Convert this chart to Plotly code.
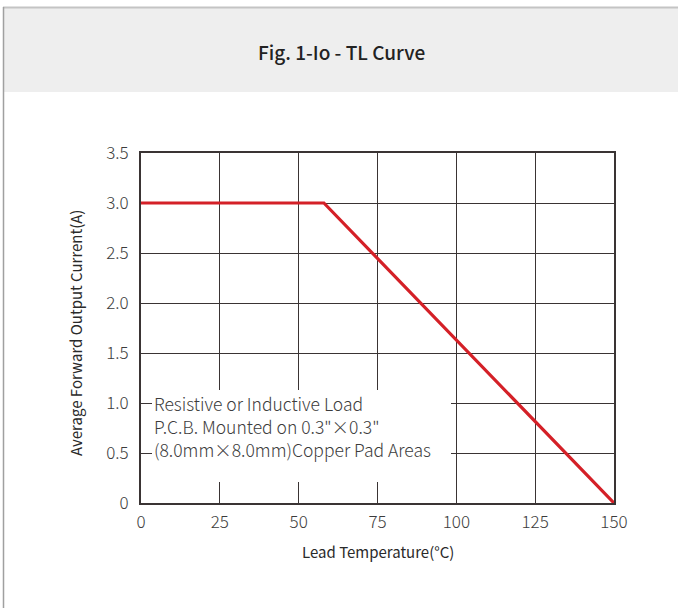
import plotly.graph_objects as go

# Data
temps = [0, 58, 150]          # Lead temperature (°C)
current = [3.0, 3.0, 0.0]     # Average forward output current (A)
x_ticks = [0, 25, 50, 75, 100, 125, 150]
x_ticktext = ["0", "25", "50", "75", "100", "125", "150"]
y_ticks = [0, 0.5, 1.0, 1.5, 2.0, 2.5, 3.0, 3.5]
y_ticktext = ["0", "0.5", "1.0", "1.5", "2.0", "2.5", "3.0", "3.5"]
title_text = "Fig. 1-Io - TL Curve"
x_title = "Lead Temperature(°C)"
y_title = "Average Forward Output Current(A)"
note_lines = ["Resistive or Inductive Load",
              "P.C.B. Mounted on 0.3\"×0.3\"",
              "(8.0mm×8.0mm)Copper Pad Areas"]

W, H = 678, 608
L, R, T, B = 141, 64, 153, 105
pw, ph = W - L - R, H - T - B

def px(p):
    return (p - L) / pw

def py(q):
    return (H - B - q) / ph

FONT = "Noto Sans CJK SC, Noto Sans, sans-serif"
GRID = "#3a3434"

fig = go.Figure()
fig.add_trace(go.Scatter(x=temps, y=current, mode="lines",
                         line=dict(color="#d42027", width=3.2),
                         hoverinfo="skip", showlegend=False, cliponaxis=False))

axis_common = dict(showgrid=True, gridcolor=GRID, gridwidth=1,
                   showline=True, linecolor=GRID, linewidth=2, mirror=True,
                   ticks="", zeroline=False,
                   tickfont=dict(family=FONT, size=17, color="#3c3c3c", weight=300))

fig.update_layout(
    width=W, height=H,
    margin=dict(l=L, r=R, t=T, b=B),
    paper_bgcolor="white", plot_bgcolor="white",
    xaxis=dict(range=[0, 150], tickvals=x_ticks, ticktext=x_ticktext, ticklabelstandoff=3, **axis_common),
    yaxis=dict(range=[0, 3.5], tickvals=y_ticks, ticktext=y_ticktext, ticklabelstandoff=7, **axis_common),
    showlegend=False,
)

shapes = []
# header band
shapes.append(dict(type="rect", xref="paper", yref="paper",
                   x0=px(4), x1=px(700), y0=py(92), y1=py(8),
                   fillcolor="#eeeeee", line=dict(width=0), layer="below"))
# top border
shapes.append(dict(type="line", xref="paper", yref="paper",
                   x0=px(3), x1=px(700), y0=py(7.5), y1=py(7.5),
                   line=dict(color="#c4c4c4", width=2), layer="below"))
# left border
shapes.append(dict(type="line", xref="paper", yref="paper",
                   x0=px(3.5), x1=px(3.5), y0=py(7), y1=py(620),
                   line=dict(color="#a0a0a0", width=1.5), layer="below"))
# white mask behind the note
shapes.append(dict(type="rect", xref="paper", yref="paper",
                   x0=px(152), x1=px(451), y0=py(482), y1=py(390),
                   fillcolor="white", line=dict(width=0), layer="above"))
fig.update_layout(shapes=shapes)

annotations = [
    dict(text=title_text, xref="paper", yref="paper", x=px(341), y=py(51),
         showarrow=False, xanchor="center", yanchor="middle",
         font=dict(family=FONT, size=19, color="#222222", weight=500)),
    dict(text=x_title, xref="paper", yref="paper", x=0.5, y=py(551),
         showarrow=False, xanchor="center", yanchor="middle",
         font=dict(family=FONT, size=15, color="#2a2a2a", weight=400)),
    dict(text=y_title, xref="paper", yref="paper", x=px(75), y=py(333),
         showarrow=False, xanchor="center", yanchor="middle", textangle=-90,
         font=dict(family=FONT, size=15, color="#2a2a2a", weight=400)),
]
note_y = [403, 426, 449]
for line, yy in zip(note_lines, note_y):
    annotations.append(dict(text=line, xref="paper", yref="paper",
                            x=px(153), y=py(yy), showarrow=False,
                            xanchor="left", yanchor="middle", align="left",
                            borderpad=0,
                            font=dict(family=FONT, size=17.5, color="#3c3c3c", weight=300)))
fig.update_layout(annotations=annotations)

fig.write_html("out.html",
               config={"displayModeBar": False},
               post_script="document.body.style.margin='0';document.body.style.overflow='hidden';")
